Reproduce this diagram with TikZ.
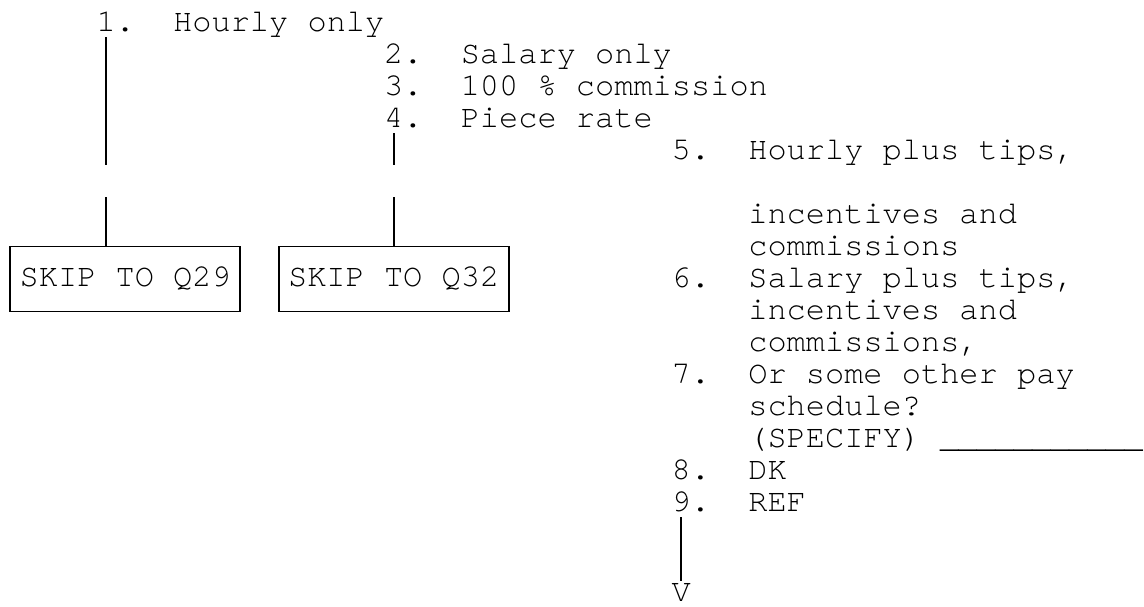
\documentclass[tikz,border=0pt]{standalone}
\usepackage{fontspec}
\newfontfamily\cursorfont{texgyrecursor-regular.otf}
\begin{document}
\begin{tikzpicture}[x=9.585pt, y=-16pt, font=\cursorfont\fontsize{16}{16}\selectfont]

    % Stili globali
    \tikzstyle{link}=[line width=0.9pt]
    \tikzstyle{every node}=[anchor=base west, inner sep=0pt, outer sep=0pt]
    \tikzstyle{skipbox}=[draw, line width=0.9pt, anchor=center, text height=9pt, text depth=2pt,
        minimum width=115.02pt, minimum height=32.5pt]

    % Area del disegno
    \useasboundingbox (-0.034,-0.969) rectangle (59.64,17.97);
    \clip (-0.034,-0.969) rectangle (59.64,17.97);
    \fill[white] (-0.034,-0.969) rectangle (59.64,17.97);

    % Prime risposte
    \node (n1) at (5,0) {1.};
    \node (t1) at (9,0) {Hourly only};
    \node (n2) at (20,1) {2.};
    \node (t2) at (24,1) {Salary only};
    \node (n3) at (20,2) {3.};
    \node (t3) at (24,2) {100 \% commission};
    \node (n4) at (20,3) {4.};
    \node (t4) at (24,3) {Piece rate};

    % Risposte a destra
    \node (n5) at (35,4) {5.};
    \node (t5) at (39,4) {Hourly plus tips,};
    \node (t5b) at (39,6) {incentives and};
    \node (t5c) at (39,7) {commissions};
    \node (n6) at (35,8) {6.};
    \node (t6) at (39,8) {Salary plus tips,};
    \node (t6b) at (39,9) {incentives and};
    \node (t6c) at (39,10) {commissions,};
    \node (n7) at (35,11) {7.};
    \node (t7) at (39,11) {Or some other pay};
    \node (t7b) at (39,12) {schedule?};
    \node (t7c) at (39,13) {(SPECIFY)};
    \node[xscale=0.96] (spec) at (49,13) {\_\_\_\_\_\_\_\_\_\_\_};
    \node (n8) at (35,14) {8.};
    \node (t8) at (39,14) {DK};
    \node (n9) at (35,15) {9.};
    \node (t9) at (39,15) {REF};
    \node (v) at (35,17.84) {V};

    % Riquadri di salto
    \node[skipbox] (q29) at (6.5,7.75) {SKIP TO Q29};
    \node[skipbox] (q32) at (20.5,7.75) {SKIP TO Q32};

    % Linee verticali (con la riga vuota in mezzo)
    \coordinate (a1) at (5.5,0.19);
    \coordinate (a2) at (5.5,4.19);
    \coordinate (a3) at (5.5,5.19);
    \draw[link] (a1) -- (a2);
    \draw[link] (a3) -- (a3 |- q29.north);

    \coordinate (b1) at (20.5,3.19);
    \coordinate (b2) at (20.5,4.19);
    \coordinate (b3) at (20.5,5.19);
    \draw[link] (b1) -- (b2);
    \draw[link] (b3) -- (b3 |- q32.north);

    \coordinate (c1) at (35.5,15.19);
    \coordinate (c2) at (35.5,17.19);
    \draw[link] (c1) -- (c2);

\end{tikzpicture}
\end{document}
